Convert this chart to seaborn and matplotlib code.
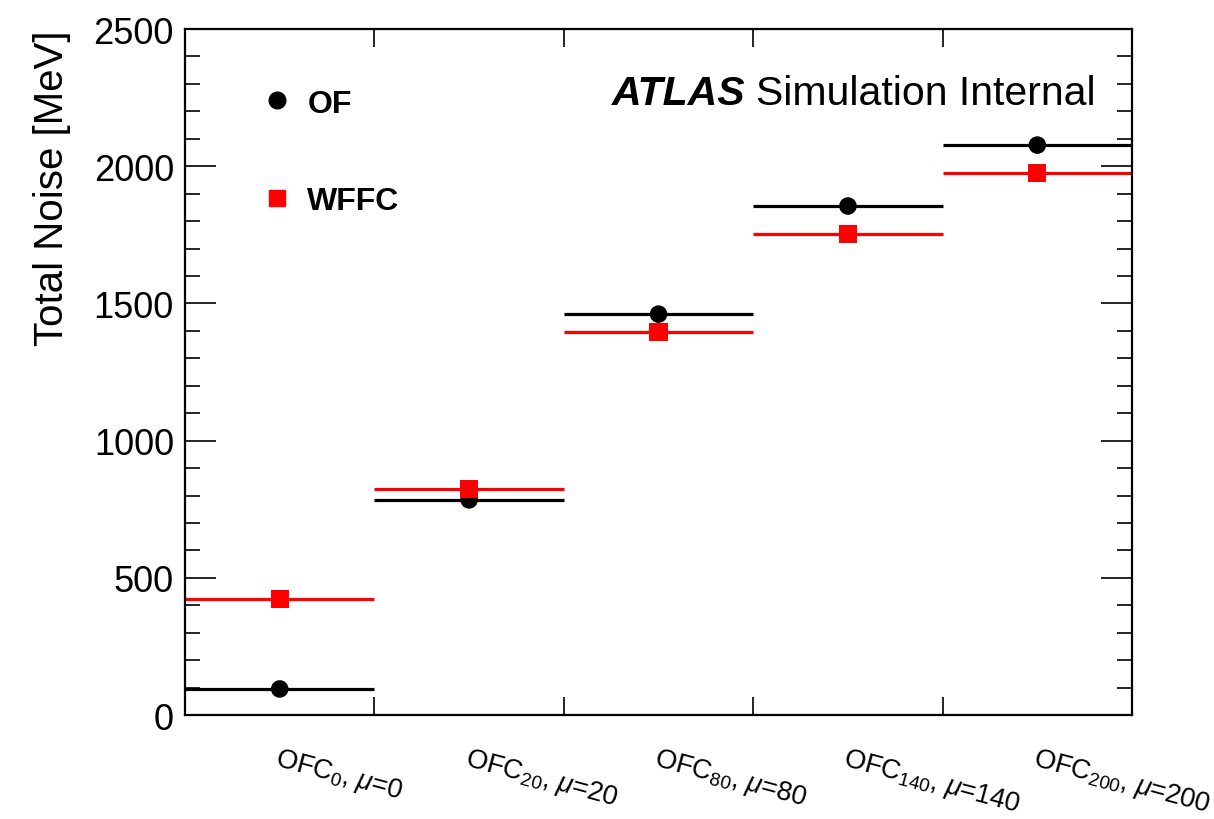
import matplotlib
matplotlib.use("Agg")
import matplotlib.pyplot as plt
import matplotlib.ticker as mticker
from matplotlib.lines import Line2D
import seaborn as sns
import pandas as pd

# -----------------------------
# Data
# -----------------------------
bin_labels = [r"OFC$_{0}$, $\mu$=0", r"OFC$_{20}$, $\mu$=20", r"OFC$_{80}$, $\mu$=80",
              r"OFC$_{140}$, $\mu$=140", r"OFC$_{200}$, $\mu$=200"]
bin_pos = [0, 1, 2, 3, 4]
of_noise = [95, 784, 1461, 1855, 2077]
wffc_noise = [423, 824, 1396, 1753, 1975]

df = pd.concat([
    pd.DataFrame({"x": bin_pos, "noise": of_noise, "method": "OF"}),
    pd.DataFrame({"x": bin_pos, "noise": wffc_noise, "method": "WFFC"}),
])

colors = {"OF": "black", "WFFC": "#ff0000"}
markers = {"OF": "o", "WFFC": "s"}

# -----------------------------
# Style
# -----------------------------
sns.set_style("ticks")
plt.rcParams["font.family"] = ["Liberation Sans", "DejaVu Sans"]
plt.rcParams.update({
    "mathtext.fontset": "custom",
    "mathtext.rm": "Liberation Sans",
    "mathtext.it": "Liberation Sans:italic",
    "axes.linewidth": 1.6,
    "axes.edgecolor": "black",
    "axes.labelcolor": "black",
    "text.color": "black",
    "xtick.color": "black",
    "ytick.color": "black",
    "xtick.direction": "in",
    "ytick.direction": "in",
})

fig = plt.figure(figsize=(12.14, 8.2), dpi=100)
ax = fig.add_axes([0.1524, 0.1268, 0.7801, 0.8366])

# horizontal bin lines
for m, vals in (("OF", of_noise), ("WFFC", wffc_noise)):
    ax.hlines(vals, [p - 0.5 for p in bin_pos], [p + 0.5 for p in bin_pos],
              color=colors[m], linewidth=2.3, zorder=2)

# markers
for m in ("OF", "WFFC"):
    sub = df[df["method"] == m]
    sns.scatterplot(data=sub, x="x", y="noise", color=colors[m], marker=markers[m],
                    s=160 if m == "OF" else 170, edgecolor="none", ax=ax,
                    legend=False, zorder=3)

ax.set_xlim(-0.5, 4.5)
ax.set_ylim(0, 2500)
ax.set_xlabel("")
ax.set_ylabel("Total Noise [MeV]", fontsize=29, loc="top", labelpad=16)

# y ticks
ax.yaxis.set_major_locator(mticker.MultipleLocator(500))
ax.yaxis.set_minor_locator(mticker.MultipleLocator(100))
ax.tick_params(axis="y", which="major", length=22, width=1.2, labelsize=26,
               right=True, pad=8)
ax.tick_params(axis="y", which="minor", length=11, width=1.2, right=True)

# x ticks: bin edges as major ticks, labels at centres
ax.set_xticks([0.5, 1.5, 2.5, 3.5])
ax.set_xticklabels([])
ax.tick_params(axis="x", which="major", length=13, width=1.2, top=True)
ax.set_xticks(bin_pos, minor=True)
ax.set_xticklabels(bin_labels, minor=True)
ax.tick_params(axis="x", which="minor", length=0, pad=21, labelsize=19.5)
for lbl in ax.get_xticklabels(minor=True):
    lbl.set_rotation(-15)
    lbl.set_rotation_mode("anchor")
    lbl.set_ha("left")
    lbl.set_va("top")

for s in ax.spines.values():
    s.set_visible(True)

# legend
handles = [
    Line2D([], [], color="black", marker="o", linestyle="none", markersize=12),
    Line2D([], [], color="#ff0000", marker="s", linestyle="none", markersize=12),
]
leg = ax.legend(handles, ["OF", "WFFC"], loc="upper left", bbox_to_anchor=(0.05, 0.955),
                frameon=False, prop={"weight": "bold", "size": 23},
                labelspacing=2.1, handletextpad=0.45, handlelength=1.0)

# ATLAS label
ax.text(0.451, 0.89, "ATLAS", transform=ax.transAxes, fontsize=29.5,
        fontweight="bold", fontstyle="italic", ha="left", va="baseline")
ax.text(0.603, 0.89, "Simulation Internal", transform=ax.transAxes, fontsize=29.5,
        ha="left", va="baseline")

fig.savefig("out.png", dpi=100)
plt.close(fig)
